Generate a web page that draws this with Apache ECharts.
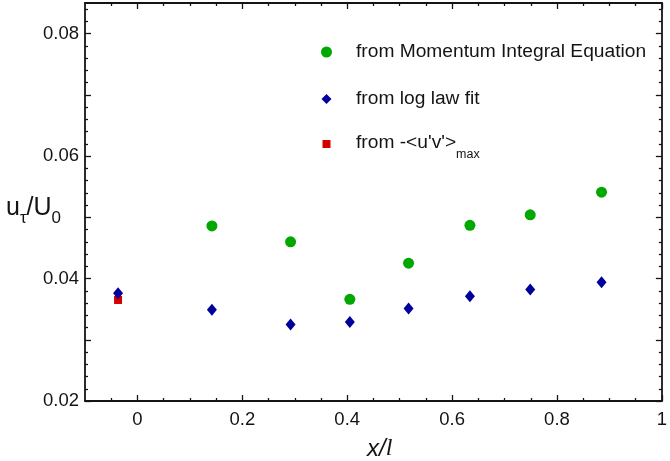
<!DOCTYPE html>
<html>
<head>
<meta charset="utf-8">
<script src="https://cdn.jsdelivr.net/npm/echarts@6/dist/echarts.min.js"></script>
<style>
  html, body { margin: 0; padding: 0; background: #ffffff; }
  #chart { width: 670px; height: 461px; }
</style>
</head>
<body>
<div id="chart"></div>
<script>
// Streamwise stations and friction-velocity estimates
const momentumX = [0.142, 0.292, 0.405, 0.517, 0.634, 0.749, 0.885];
const momentumY = [0.0486, 0.0460, 0.0366, 0.0425, 0.0487, 0.0504, 0.0541];
const logLawX = [-0.037, 0.142, 0.292, 0.405, 0.517, 0.634, 0.749, 0.885];
const logLawY = [0.0376, 0.0349, 0.0325, 0.0329, 0.0351, 0.0371, 0.0382, 0.0394];
const stressX = [-0.037];
const stressY = [0.0365];

// Series names
const nameMomentum = 'from Momentum Integral Equation';
const nameLogLaw = 'from log law fit';
const nameStress = 'from -<u\'v\'>max';

// Tick values
const xMajorTicks = [0, 0.2, 0.4, 0.6, 0.8, 1];
const xMinorTicks = [-0.05, 0.05, 0.1, 0.15, 0.25, 0.3, 0.35, 0.45, 0.5, 0.55,
                     0.65, 0.7, 0.75, 0.85, 0.9, 0.95];
const yMajorTicks = [0.02, 0.03, 0.04, 0.05, 0.06, 0.07, 0.08];
const yLabelTicks = [0.02, 0.04, 0.06, 0.08];
const yMinorTicks = [0.022, 0.024, 0.026, 0.028, 0.032, 0.034, 0.036, 0.038,
                     0.042, 0.044, 0.046, 0.048, 0.052, 0.054, 0.056, 0.058,
                     0.062, 0.064, 0.066, 0.068, 0.072, 0.074, 0.076, 0.078,
                     0.082, 0.084];

const pairs = (xs, ys) => xs.map((x, i) => [x, ys[i]]);

const AX_COLOR = '#141414';
const FONT = '"Liberation Sans", Arial, sans-serif';
const X_RANGE = { min: -0.1, max: 1 };
const Y_RANGE = { min: 0.02, max: 0.085 };

function axis(range, position, ticks, tickLen, labels, formatter, margin, showLine) {
  return {
    type: 'value',
    position: position,
    min: range.min,
    max: range.max,
    axisLine: { show: showLine, onZero: false, lineStyle: { color: AX_COLOR, width: 1.8 } },
    axisTick: { show: true, inside: true, length: tickLen, customValues: ticks,
                lineStyle: { color: AX_COLOR, width: 1.3 } },
    axisLabel: labels ? {
      show: true, customValues: labels, formatter: formatter, margin: margin,
      color: AX_COLOR, fontSize: 18.5, fontFamily: FONT
    } : { show: false },
    splitLine: { show: false },
    minorTick: { show: false }
  };
}

const chart = echarts.init(document.getElementById('chart'), null, { renderer: 'canvas' });

const legendText = {
  color: AX_COLOR, fontSize: 19.2, fontFamily: FONT, lineHeight: 22,
  padding: [0, 0, 0, 0]
};

chart.setOption({
  backgroundColor: '#ffffff',
  animation: false,
  grid: { left: 85, right: 2, top: 3, bottom: 60, containLabel: false },
  xAxis: [
    axis(X_RANGE, 'bottom', xMajorTicks, 6, xMajorTicks, v => String(v), 9, true),
    axis(X_RANGE, 'bottom', xMinorTicks, 3, null, null, 0, false),
    axis(X_RANGE, 'top', xMajorTicks, 6, null, null, 0, true),
    axis(X_RANGE, 'top', xMinorTicks, 3, null, null, 0, false)
  ],
  yAxis: [
    axis(Y_RANGE, 'left', yMajorTicks, 6, yLabelTicks, v => v.toFixed(2), 6, true),
    axis(Y_RANGE, 'left', yMinorTicks, 3, null, null, 0, false),
    axis(Y_RANGE, 'right', yMajorTicks, 6, null, null, 0, true),
    axis(Y_RANGE, 'right', yMinorTicks, 3, null, null, 0, false)
  ],
  legend: [
    {
      data: [nameMomentum], orient: 'vertical', left: 321, top: 41, padding: 0,
      itemWidth: 11, itemHeight: 11, selectedMode: false,
      textStyle: Object.assign({}, legendText, { padding: [0, 0, 0, 19] })
    },
    {
      data: [nameLogLaw], orient: 'vertical', left: 321.5, top: 88, padding: 0,
      itemWidth: 10, itemHeight: 10, selectedMode: false,
      textStyle: Object.assign({}, legendText, { padding: [0, 0, 0, 19.5] })
    },
    {
      data: [nameStress], orient: 'vertical', left: 322.5, top: 133, padding: 0,
      itemWidth: 8, itemHeight: 8, selectedMode: false,
      formatter: () => '{m|from -<u\'v\'>}{s|max}',
      textStyle: Object.assign({}, legendText, {
        padding: [0, 0, 0, 20.5],
        rich: {
          m: { fontSize: 19.2, fontFamily: FONT, color: AX_COLOR, lineHeight: 22, verticalAlign: 'top' },
          s: { fontSize: 12.5, fontFamily: FONT, color: AX_COLOR, lineHeight: 12, verticalAlign: 'bottom', padding: [0, 0, -6, 0] }
        }
      })
    }
  ],
  series: [
    {
      name: nameMomentum, type: 'scatter', xAxisIndex: 0, yAxisIndex: 0,
      symbol: 'circle', symbolSize: 11, z: 2,
      itemStyle: { color: '#00a800', opacity: 1 },
      data: pairs(momentumX, momentumY)
    },
    {
      name: nameLogLaw, type: 'scatter', xAxisIndex: 0, yAxisIndex: 0,
      symbol: 'diamond', symbolSize: [10, 12], z: 3,
      itemStyle: { color: '#00009c', opacity: 1 },
      data: pairs(logLawX, logLawY)
    },
    {
      name: nameStress, type: 'scatter', xAxisIndex: 0, yAxisIndex: 0,
      symbol: 'rect', symbolSize: 8, z: 1,
      itemStyle: { color: '#d40000', opacity: 1 },
      data: pairs(stressX, stressY)
    }
  ],
  graphic: [
    {
      type: 'text', left: 6, top: 196,
      style: {
        text: '{m|u}{s|τ}{m|/U}{s|0}',
        rich: {
          m: { fontSize: 25, fontFamily: FONT, fill: AX_COLOR, lineHeight: 31, verticalAlign: 'top' },
          s: { fontSize: 17, fontFamily: FONT, fill: AX_COLOR, lineHeight: 17, verticalAlign: 'bottom' }
        }
      }
    },
    {
      type: 'text', left: 367, top: 437,
      style: {
        text: '{x|x/}{l|l}',
        rich: {
          x: { fontSize: 24, fontFamily: FONT, fontStyle: 'italic', fill: AX_COLOR },
          l: { fontSize: 24, fontFamily: '"Liberation Serif", serif', fontStyle: 'italic', fill: AX_COLOR }
        }
      }
    }
  ]
});
</script>
</body>
</html>
